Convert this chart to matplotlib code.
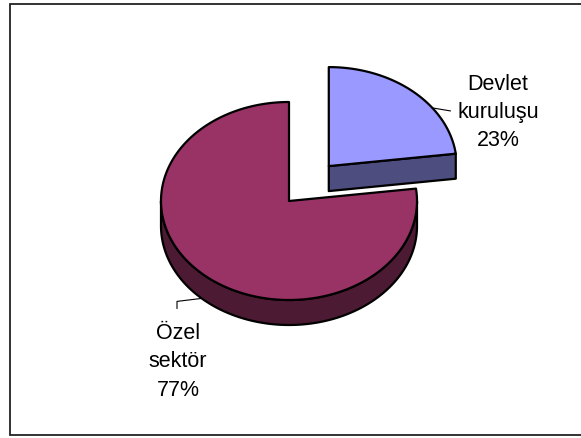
import matplotlib.pyplot as plt
from matplotlib.patches import Polygon, Rectangle
import numpy as np

# data
labels = ['Devlet\nkuruluşu', 'Özel\nsektör']
shares = [23, 77]
top_colors = ['#9999FF', '#993366']
side_colors = ['#4D4D80', '#4D1A33']
explode = [0.47, 0.0]

W, H = 581, 439
fig = plt.figure(figsize=(W / 100, H / 100), dpi=100)
ax = fig.add_axes([0, 0, 1, 1])
ax.set_xlim(0, W)
ax.set_ylim(H, 0)
ax.axis('off')

plt.rcParams['font.family'] = ['Liberation Sans', 'DejaVu Sans']

# chart area frame
ax.add_patch(Rectangle((9.5, 4.5), W, 431.5, facecolor='white',
                       edgecolor='#222222', linewidth=1.3, zorder=0))

# pie geometry (pixels)
cx, cy = 289, 202
rx, ry = 128, 99
depth = 25


def pt(x0, y0, t, dz=0):
    t = np.radians(t)
    return x0 + rx * np.cos(t), y0 - ry * np.sin(t) + dz


# slices go clockwise from 12 o'clock
total = float(sum(shares))
bounds = 90 - 360 * np.concatenate([[0], np.cumsum(shares)]) / total

slices = []
for i in range(len(shares)):
    hi, lo = bounds[i], bounds[i + 1]
    while lo < 0:
        lo += 360
        hi += 360
    mid = np.radians((lo + hi) / 2)
    x0 = cx + explode[i] * rx * np.cos(mid)
    y0 = cy - explode[i] * ry * np.sin(mid)
    slices.append((y0, i, x0, lo, hi))

# back slices first
for y0, i, x0, lo, hi in sorted(slices):
    kw = dict(edgecolor='black', linewidth=1.6, joinstyle='round')
    # outer side
    a, b = max(lo, 180), min(hi, 360)
    if a < b:
        ts = np.linspace(a, b, 120)
        top = [pt(x0, y0, t) for t in ts]
        bot = [pt(x0, y0, t, depth) for t in ts[::-1]]
        ax.add_patch(Polygon(top + bot, facecolor=side_colors[i], **kw))
    # radial faces
    for t, vis in ((lo, np.cos(np.radians(lo)) > 1e-6),
                   (hi, np.cos(np.radians(hi)) < -1e-6)):
        if vis:
            px, py = pt(x0, y0, t)
            ax.add_patch(Polygon([(x0, y0), (px, py), (px, py + depth),
                                  (x0, y0 + depth)],
                                 facecolor=side_colors[i], **kw))
    # top face
    ts = np.linspace(lo, hi, 200)
    ax.add_patch(Polygon([(x0, y0)] + [pt(x0, y0, t) for t in ts],
                         facecolor=top_colors[i], **kw))


def label(x, y, text):
    # one text per line, fixed baseline step like the Excel label
    for k, line in enumerate(text.split('\n')):
        ax.text(x, y + k * 28.4, line, ha='center', va='baseline',
                fontsize=15.5, color='black')


pos = {s[1]: s for s in slices}
y0, _, x0, _, _ = pos[0]
sx, sy = pt(x0, y0, 36)
ax.plot([sx, sx + 18], [sy, sy + 3], color='black', linewidth=0.8)
label(498, 89.5, f'{labels[0]}\n{shares[0]}%')

y0, _, x0, _, _ = pos[1]
sx, sy = pt(x0, y0, 227, depth)
ax.plot([sx, 177, 177], [sy, sy + 3, sy + 10], color='black', linewidth=0.8)
label(178, 339, f'{labels[1]}\n{shares[1]}%')

fig.savefig('out.png', dpi=100)
